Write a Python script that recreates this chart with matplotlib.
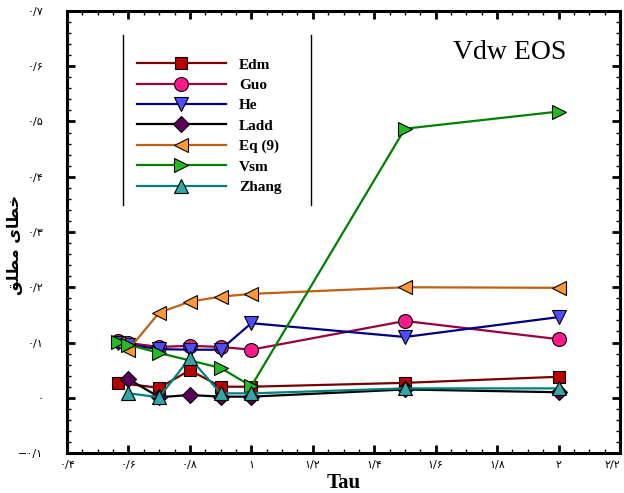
import matplotlib
matplotlib.use("Agg")
import matplotlib.pyplot as plt
from matplotlib.ticker import FixedLocator, MultipleLocator
from matplotlib.lines import Line2D

# ---- data ----
tau_edm = [0.565, 0.7, 0.8, 0.9, 1.0, 1.5, 2.0]
edm = [0.027, 0.018, 0.050, 0.020, 0.020, 0.027, 0.038]

tau_guo = [0.565, 0.6, 0.7, 0.8, 0.9, 1.0, 1.5, 2.0]
guo = [0.103, 0.099, 0.092, 0.094, 0.092, 0.087, 0.139, 0.106]

tau_he = [0.565, 0.6, 0.7, 0.8, 0.9, 1.0, 1.5, 2.0]
he = [0.099, 0.096, 0.088, 0.087, 0.087, 0.135, 0.110, 0.146]

tau_ladd = [0.6, 0.7, 0.8, 0.9, 1.0, 1.5, 2.0]
ladd = [0.034, 0.001, 0.005, 0.002, 0.002, 0.015, 0.010]

tau_eq9 = [0.565, 0.6, 0.7, 0.8, 0.9, 1.0, 1.5, 2.0]
eq9 = [0.099, 0.087, 0.154, 0.174, 0.183, 0.188, 0.200, 0.199]

tau_vsm = [0.565, 0.6, 0.7, 0.9, 1.0, 1.5, 2.0]
vsm = [0.101, 0.096, 0.081, 0.054, 0.021, 0.487, 0.518]

tau_zhang = [0.6, 0.7, 0.8, 0.9, 1.0, 1.5, 2.0]
zhang = [0.008, 0.001, 0.072, 0.008, 0.008, 0.017, 0.017]

x_ticks = [0.4, 0.6, 0.8, 1.0, 1.2, 1.4, 1.6, 1.8, 2.0, 2.2]
x_labels = ["۰/۴", "۰/۶", "۰/۸", "۱", "۱/۲", "۱/۴", "۱/۶", "۱/۸", "۲", "۲/۲"]
y_ticks = [-0.1, 0.0, 0.1, 0.2, 0.3, 0.4, 0.5, 0.6, 0.7]
y_labels = ["−۰/۱", "۰", "۰/۱", "۰/۲", "۰/۳", "۰/۴", "۰/۵", "۰/۶", "۰/۷"]

# Persian "خطای مطلق" pre-shaped (presentation forms, visual order)
ylabel_text = "\uFED6\uFEE0\uFEC4\uFEE3 \uFBFC\uFE8E\uFEC4\uFEA7"

series = [
    ("Edm", tau_edm, edm, "#7a0000", "#b80000", "s", 8.5),
    ("Guo", tau_guo, guo, "#9a0040", "#ff1a8c", "o", 10),
    ("He", tau_he, he, "#000080", "#4d4dff", "v", 9.5),
    ("Ladd", tau_ladd, ladd, "#000000", "#5a005a", "D", 8),
    ("Eq (9)", tau_eq9, eq9, "#c06010", "#ff9933", "<", 9.5),
    ("Vsm", tau_vsm, vsm, "#008000", "#22bb22", ">", 9.5),
    ("Zhang", tau_zhang, zhang, "#008080", "#33a6a6", "^", 9.5),
]

fig = plt.figure(figsize=(6.24, 4.93), dpi=100)
ax = fig.add_axes([0.1074, 0.0811, 0.8862, 0.8966])

handles = []
for name, xs, ys, lc, fc, mk, ms in series:
    h, = ax.plot(xs, ys, color=lc, lw=1.6, marker=mk, markersize=ms,
                 markerfacecolor=fc, markeredgecolor="black", markeredgewidth=0.8,
                 label=name)
    handles.append(h)

ax.set_xlim(0.4, 2.2)
ax.set_ylim(-0.1, 0.7)
ax.xaxis.set_major_locator(FixedLocator(x_ticks))
ax.set_xticklabels(x_labels, fontfamily="DejaVu Sans", fontsize=8)
ax.xaxis.set_minor_locator(MultipleLocator(0.05))
ax.yaxis.set_major_locator(FixedLocator(y_ticks))
ax.set_yticklabels(y_labels, fontfamily="DejaVu Sans", fontsize=8)
ax.yaxis.set_minor_locator(MultipleLocator(0.02))
ax.tick_params(which="both", direction="in", top=True, right=True)
ax.tick_params(which="major", length=6, width=2)
ax.tick_params(which="minor", length=3, width=1)
ax.tick_params(axis="x", which="major", pad=5)
ax.tick_params(axis="y", which="major", pad=17)
ax.get_xticklabels()[-1].set_horizontalalignment("right")
for s in ax.spines.values():
    s.set_linewidth(2.2)

ax.set_xlabel("Tau", fontfamily="Liberation Serif", fontweight="bold", fontsize=15, labelpad=2)
ax.set_ylabel(ylabel_text, fontfamily="DejaVu Sans", fontweight="bold", fontsize=11.5)
ax.yaxis.set_label_coords(-0.079, 0.47)

ax.text(0.8, 0.905, "Vdw EOS", transform=ax.transAxes, ha="center", va="center",
        fontfamily="Liberation Serif", fontsize=20)

leg = ax.legend(handles=handles, loc="upper left", bbox_to_anchor=(0.102, 0.925),
                frameon=False, numpoints=1, handlelength=5.8, handletextpad=0.85,
                labelspacing=0.44, prop={"family": "Liberation Serif", "weight": "bold", "size": 11})

# legend side rules
for xa in (0.1017, 0.4407):
    ax.add_line(Line2D([xa, xa], [0.561, 0.946], transform=ax.transAxes, color="black", lw=1))

fig.savefig("out.png", dpi=100)
